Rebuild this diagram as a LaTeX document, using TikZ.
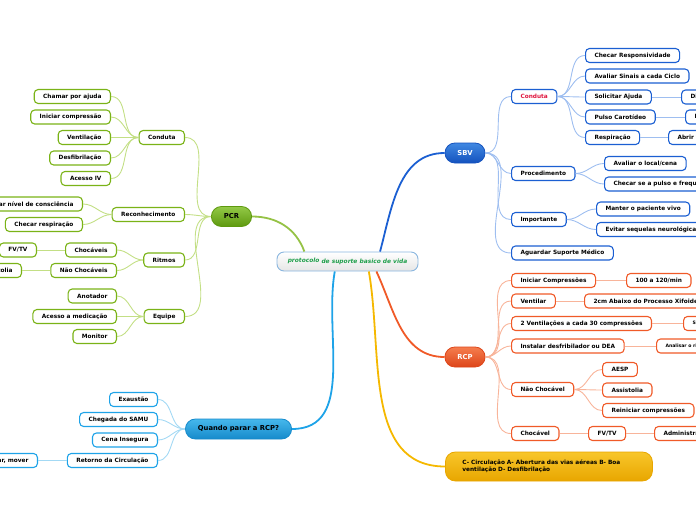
\documentclass[tikz,border=0pt]{standalone}
\usepackage{fontspec}
\setmainfont{DejaVu Sans}

\definecolor{pcrgreen}{HTML}{7AB317}
\definecolor{pcrline}{HTML}{C3DF85}
\definecolor{pcrtop}{HTML}{93C947}
\definecolor{pcrbot}{HTML}{5E990F}
\definecolor{sbvblue}{HTML}{1B5FD2}
\definecolor{sbvline}{HTML}{9EBEF0}
\definecolor{sbvtop}{HTML}{4088E2}
\definecolor{sbvbot}{HTML}{1452BE}
\definecolor{pararblue}{HTML}{1EA3E8}
\definecolor{pararline}{HTML}{A3D9F4}
\definecolor{parartop}{HTML}{46B8EC}
\definecolor{pararbot}{HTML}{168ACB}
\definecolor{rcporange}{HTML}{F05A28}
\definecolor{rcpline}{HTML}{F8B49A}
\definecolor{rcptop}{HTML}{F57D4E}
\definecolor{rcpbot}{HTML}{DD4519}
\definecolor{abcdtop}{HTML}{F8C62A}
\definecolor{abcdbot}{HTML}{E8A600}
\definecolor{abcdline}{HTML}{F5B800}
\definecolor{protoborder}{HTML}{8AB6DF}
\definecolor{prototext}{HTML}{1E9E4A}
\definecolor{condred}{HTML}{E0173F}

\tikzstyle{leaf}=[draw,fill=white,rounded corners=4pt,line width=1.1pt,minimum height=14pt,inner xsep=9pt,inner ysep=0pt,font=\bfseries\fontsize{5.8}{7}\selectfont]
\tikzstyle{gleaf}=[leaf,draw=pcrgreen]
\tikzstyle{bleaf}=[leaf,draw=sbvblue]
\tikzstyle{cleaf}=[leaf,draw=pararblue]
\tikzstyle{oleaf}=[leaf,draw=rcporange]
\tikzstyle{tiny}=[font=\bfseries\fontsize{4.6}{6}\selectfont]
\tikzstyle{topic}=[draw,rounded corners=10pt,line width=0.8pt,minimum height=20pt,inner xsep=12.5pt,inner ysep=0pt,font=\bfseries\fontsize{6.8}{8}\selectfont]
\tikzstyle{glink}=[draw=pcrline,line width=0.9pt]
\tikzstyle{blink}=[draw=sbvline,line width=0.9pt]
\tikzstyle{clink}=[draw=pararline,line width=0.9pt]
\tikzstyle{olink}=[draw=rcpline,line width=0.9pt]
\tikzstyle{trunk}=[line width=1.8pt]

\begin{document}
\begin{tikzpicture}[x=1pt,y=1pt]
	\useasboundingbox (0,0) rectangle (696,-520);
	\clip (0,0) rectangle (696,-520);
			% central topic and main branches
			\node[draw=protoborder,line width=0.9pt,rounded corners=7pt,top color=white,bottom color=black!10,minimum width=141pt,minimum height=19pt,inner sep=0pt,text=prototext,font=\bfseries\itshape\fontsize{5.9}{7}\selectfont] (proto) at (347.5,-261.5) {\raisebox{1.5pt}{protocolo} de suporte basico de vida};
			\node[topic,draw=pcrbot,top color=pcrtop,bottom color=pcrbot] (pcr) at (231.5,-216.5) {PCR};
			\node[topic,draw=sbvbot,top color=sbvtop,bottom color=sbvbot,text=white] (sbv) at (465,-153) {SBV};
			\node[topic,draw=rcpbot,top color=rcptop,bottom color=rcpbot,text=white] (rcp) at (465,-357) {RCP};
			\node[topic,draw=pararbot,top color=parartop,bottom color=pararbot] (parar) at (238.5,-429) {Quando parar a RCP?};
			\node[topic,draw=abcdbot,top color=abcdtop,bottom color=abcdbot,minimum height=29pt,inner xsep=17pt,text width=173pt,align=left,anchor=west,font=\bfseries\fontsize{5.8}{7.2}\selectfont] (abcd) at (445,-466.5) {C- Circulação A- Abertura das vias aéreas B- Boa\\ventilação D- Desfibrilação};

			% PCR
			\node[gleaf,anchor=east] (pcond) at (185,-137.5) {Conduta};
			\node[gleaf,anchor=east] (pchamar) at (111,-96.5) {Chamar por ajuda};
			\node[gleaf,anchor=east] (pinic) at (111,-117) {Iniciar compressão};
			\node[gleaf,anchor=east] (pvent) at (111,-137.5) {Ventilação};
			\node[gleaf,anchor=east] (pdesf) at (111,-158) {Desfibrilação};
			\node[gleaf,anchor=east] (pacesso) at (111,-178.5) {Acesso IV};
			\node[gleaf,anchor=east] (precon) at (185,-214.5) {Reconhecimento};
			\node[gleaf,anchor=east] (pconsc) at (83,-204) {Checar nível de consciência};
			\node[gleaf,anchor=east] (presp) at (83,-224.5) {Checar respiração};
			\node[gleaf,anchor=east] (pritmos) at (185,-260) {Ritmos};
			\node[gleaf,anchor=east] (pchoc) at (117,-250) {Chocáveis};
			\node[gleaf,anchor=east] (pnchoc) at (117,-270.5) {Não Chocáveis};
			\node[gleaf,anchor=east] (pfvtv) at (37,-250) {FV/TV};
			\node[gleaf,anchor=east] (passist) at (22,-270.5) {Assistolia};
			\node[gleaf,anchor=east] (pequipe) at (185,-316.5) {Equipe};
			\node[gleaf,anchor=east] (panot) at (117,-296) {Anotador};
			\node[gleaf,anchor=east] (pmedic) at (117,-316.5) {Acesso a medicação};
			\node[gleaf,anchor=east] (pmonit) at (117,-336.5) {Monitor};

			% Quando parar a RCP?
			\node[cleaf,anchor=east] (qexaust) at (158,-399.5) {Exaustão};
			\node[cleaf,anchor=east] (qsamu) at (158,-419.5) {Chegada do SAMU};
			\node[cleaf,anchor=east] (qcena) at (158,-440) {Cena Insegura};
			\node[cleaf,anchor=east] (qretorno) at (158,-460.5) {Retorno da Circulação};
			\node[cleaf,anchor=east] (qmover) at (38,-460.5) {Reavaliar, mover};

			% SBV
			\node[bleaf,anchor=west,text=condred] (scond) at (511,-96.5) {Conduta};
			\node[bleaf,anchor=west] (sresp) at (585,-55.5) {Checar Responsividade};
			\node[bleaf,anchor=west] (ssinais) at (585,-76) {Avaliar Sinais a cada Ciclo};
			\node[bleaf,anchor=west] (sajuda) at (585,-97) {Solicitar Ajuda};
			\node[bleaf,anchor=west] (sdisque) at (681,-97) {Disque 192};
			\node[bleaf,anchor=west] (spulso) at (585,-117) {Pulso Carotídeo};
			\node[bleaf,anchor=west] (sdez) at (685,-117) {Em até 10 segundos};
			\node[bleaf,anchor=west] (srespir) at (585,-137.5) {Respiração};
			\node[bleaf,anchor=west] (svias) at (668,-137.5) {Abrir vias aéreas};
			\node[bleaf,anchor=west] (sproc) at (511,-173.5) {Procedimento};
			\node[bleaf,anchor=west] (slocal) at (604,-163.5) {Avaliar o local/cena};
			\node[bleaf,anchor=west] (sfreq) at (604,-184) {Checar se a pulso e frequência};
			\node[bleaf,anchor=west] (simport) at (511,-219.5) {Importante};
			\node[bleaf,anchor=west] (svivo) at (596,-209) {Manter o paciente vivo};
			\node[bleaf,anchor=west] (sseq) at (596,-229.5) {Evitar sequelas neurológicas};
			\node[bleaf,anchor=west] (saguard) at (511,-253) {Aguardar Suporte Médico};

			% RCP
			\node[oleaf,anchor=west] (rinic) at (511,-280.5) {Iniciar Compressões};
			\node[oleaf,anchor=west] (rritmo) at (626,-280.5) {100 a 120/min};
			\node[oleaf,anchor=west] (rvent) at (511,-301) {Ventilar};
			\node[oleaf,anchor=west] (rxif) at (584,-301) {2cm Abaixo do Processo Xifoide};
			\node[oleaf,anchor=west] (rdois) at (511,-323.5) {2 Ventilações a cada 30 compressões};
			\node[oleaf,tiny,anchor=west] (rsem) at (683,-323.5) {Sem via aérea avançada};
			\node[oleaf,anchor=west] (rdea) at (511,-346) {Instalar desfribilador ou DEA};
			\node[oleaf,tiny,anchor=west] (ranal) at (656,-346) {Analisar o ritmo};
			\node[oleaf,anchor=west] (rnchoc) at (511,-389.5) {Não Chocável};
			\node[oleaf,anchor=west] (raesp) at (602,-369.5) {AESP};
			\node[oleaf,anchor=west] (rassist) at (602,-390) {Assistolia};
			\node[oleaf,anchor=west] (rrein) at (602,-410.5) {Reiniciar compressões};
			\node[oleaf,anchor=west] (rchoc) at (511,-433.5) {Chocável};
			\node[oleaf,anchor=west] (rfv) at (588,-433.5) {FV/TV};
			\node[oleaf,anchor=west] (radmin) at (654,-433.5) {Administrar choque};

			% Then we draw the connectors
			\draw[trunk,draw=pcrgreen!80] (proto.167) to[out=110,in=0] (pcr.east);
			\draw[trunk,draw=sbvblue] (proto.17) to[out=75,in=180] (sbv.west);
			\draw[trunk,draw=pararblue] (proto.218) to[out=-100,in=0] (parar.east);
			\draw[trunk,draw=rcporange] (proto.341) to[out=-65,in=180] (rcp.west);
			\draw[trunk,draw=abcdline] (proto.335) to[out=-80,in=180] (abcd.west);

			\draw[glink] (pcr.west) to[out=180,in=0] (pcond.east);
			\draw[glink] (pcr.west) to[out=180,in=0] (precon.east);
			\draw[glink] (pcr.west) to[out=180,in=0] (pritmos.east);
			\draw[glink] (pcr.west) to[out=180,in=0] (pequipe.east);
			\draw[glink] (pcond.west) to[out=180,in=0] (pchamar.east);
			\draw[glink] (pcond.west) to[out=180,in=0] (pinic.east);
			\draw[glink] (pcond.west) to[out=180,in=0] (pvent.east);
			\draw[glink] (pcond.west) to[out=180,in=0] (pdesf.east);
			\draw[glink] (pcond.west) to[out=180,in=0] (pacesso.east);
			\draw[glink] (precon.west) to[out=180,in=0] (pconsc.east);
			\draw[glink] (precon.west) to[out=180,in=0] (presp.east);
			\draw[glink] (pritmos.west) to[out=180,in=0] (pchoc.east);
			\draw[glink] (pritmos.west) to[out=180,in=0] (pnchoc.east);
			\draw[glink] (pchoc.west) -- (pfvtv.east);
			\draw[glink] (pnchoc.west) -- (passist.east);
			\draw[glink] (pequipe.west) to[out=180,in=0] (panot.east);
			\draw[glink] (pequipe.west) to[out=180,in=0] (pmedic.east);
			\draw[glink] (pequipe.west) to[out=180,in=0] (pmonit.east);

			\draw[clink] (parar.west) to[out=180,in=0] (qexaust.east);
			\draw[clink] (parar.west) to[out=180,in=0] (qsamu.east);
			\draw[clink] (parar.west) to[out=180,in=0] (qcena.east);
			\draw[clink] (parar.west) to[out=180,in=0] (qretorno.east);
			\draw[clink] (qretorno.west) -- (qmover.east);

			\draw[blink] (sbv.east) to[out=0,in=180] (scond.west);
			\draw[blink] (sbv.east) to[out=0,in=180] (sproc.west);
			\draw[blink] (sbv.east) to[out=0,in=180] (simport.west);
			\draw[blink] (sbv.east) to[out=0,in=180] (saguard.west);
			\draw[blink] (scond.east) to[out=0,in=180] (sresp.west);
			\draw[blink] (scond.east) to[out=0,in=180] (ssinais.west);
			\draw[blink] (scond.east) to[out=0,in=180] (sajuda.west);
			\draw[blink] (scond.east) to[out=0,in=180] (spulso.west);
			\draw[blink] (scond.east) to[out=0,in=180] (srespir.west);
			\draw[blink] (sajuda.east) -- (sdisque.west);
			\draw[blink] (spulso.east) -- (sdez.west);
			\draw[blink] (srespir.east) -- (svias.west);
			\draw[blink] (sproc.east) to[out=0,in=180] (slocal.west);
			\draw[blink] (sproc.east) to[out=0,in=180] (sfreq.west);
			\draw[blink] (simport.east) to[out=0,in=180] (svivo.west);
			\draw[blink] (simport.east) to[out=0,in=180] (sseq.west);

			\draw[olink] (rcp.east) to[out=0,in=180] (rinic.west);
			\draw[olink] (rcp.east) to[out=0,in=180] (rvent.west);
			\draw[olink] (rcp.east) to[out=0,in=180] (rdois.west);
			\draw[olink] (rcp.east) to[out=0,in=180] (rdea.west);
			\draw[olink] (rcp.east) to[out=0,in=180] (rnchoc.west);
			\draw[olink] (rcp.east) to[out=0,in=180] (rchoc.west);
			\draw[olink] (rinic.east) -- (rritmo.west);
			\draw[olink] (rvent.east) -- (rxif.west);
			\draw[olink] (rdois.east) -- (rsem.west);
			\draw[olink] (rdea.east) -- (ranal.west);
			\draw[olink] (rnchoc.east) to[out=0,in=180] (raesp.west);
			\draw[olink] (rnchoc.east) to[out=0,in=180] (rassist.west);
			\draw[olink] (rnchoc.east) to[out=0,in=180] (rrein.west);
			\draw[olink] (rchoc.east) -- (rfv.west);
			\draw[olink] (rfv.east) -- (radmin.west);
		\end{tikzpicture}
\end{document}
